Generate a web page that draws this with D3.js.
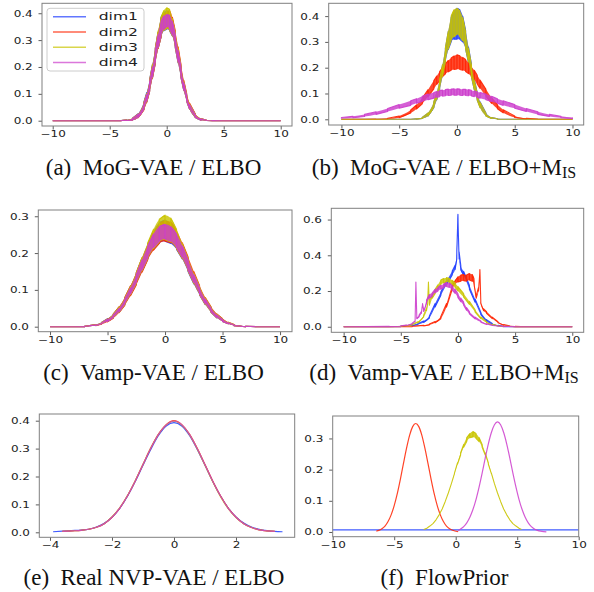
<!DOCTYPE html>
<html>
<head>
<meta charset="utf-8">
<script src="https://cdn.jsdelivr.net/npm/d3@7"></script>
<style>
  body { margin: 0; background: #fff; }
  svg { display: block; }
</style>
</head>
<body>
<div id="chart"></div>
<script>
const dimNames = ['dim1', 'dim2', 'dim3', 'dim4'];
const dimColors = ['#1f3dff', '#ff2200', '#c9c400', '#cc3dcc'];

const xTicksWide = [-10, -5, 0, 5, 10];
const xTicksE = [-4, -2, 0, 2];
const yTicksA = [0, 0.1, 0.2, 0.3, 0.4];
const yTicksC = [0, 0.1, 0.2, 0.3];
const yTicksD = [0, 0.2, 0.4, 0.6];
const yTicksF = [0, 0.1, 0.2, 0.3];

const captions = [
  ['(a)', 'MoG-VAE / ELBO', false],
  ['(b)', 'MoG-VAE / ELBO+M', true],
  ['(c)', 'Vamp-VAE / ELBO', false],
  ['(d)', 'Vamp-VAE / ELBO+M', true],
  ['(e)', 'Real NVP-VAE / ELBO', false],
  ['(f)', 'FlowPrior', false]
];

// (a) MoG-VAE / ELBO : noisy band, lower and upper edge per dim
const aX = [-10, -5, -4, -3.5, -3, -2.5, -2, -1.75, -1.5, -1.25, -1, -0.75, -0.5, -0.25, 0, 0.25, 0.5, 0.75, 1, 1.25, 1.5, 1.75, 2, 2.5, 3, 3.5, 4, 5, 10];
const aHi1 = [0, 0, 0.001, 0.003, 0.009, 0.026, 0.07, 0.105, 0.152, 0.21, 0.27, 0.33, 0.385, 0.405, 0.41, 0.4, 0.375, 0.325, 0.265, 0.2, 0.143, 0.096, 0.062, 0.024, 0.007, 0.002, 0.001, 0, 0];
const aLo1 = [0, 0, 0, 0.0005, 0.002, 0.012, 0.042, 0.07, 0.11, 0.16, 0.215, 0.27, 0.31, 0.335, 0.34, 0.335, 0.315, 0.272, 0.215, 0.16, 0.112, 0.072, 0.043, 0.012, 0.002, 0.0005, 0, 0, 0];
const aHi2 = [0, 0, 0.001, 0.002, 0.008, 0.024, 0.066, 0.1, 0.148, 0.205, 0.268, 0.33, 0.38, 0.4, 0.405, 0.41, 0.385, 0.335, 0.275, 0.21, 0.15, 0.102, 0.066, 0.026, 0.008, 0.002, 0.001, 0, 0];
const aLo2 = [0, 0, 0, 0.0005, 0.002, 0.011, 0.04, 0.068, 0.108, 0.158, 0.212, 0.268, 0.31, 0.34, 0.345, 0.34, 0.318, 0.278, 0.222, 0.165, 0.116, 0.075, 0.045, 0.013, 0.003, 0.0005, 0, 0, 0];
const aHi3 = [0, 0, 0.001, 0.003, 0.009, 0.025, 0.068, 0.102, 0.15, 0.21, 0.27, 0.335, 0.385, 0.41, 0.42, 0.415, 0.38, 0.33, 0.27, 0.205, 0.146, 0.098, 0.063, 0.025, 0.008, 0.002, 0.001, 0, 0];
const aLo3 = [0, 0, 0, 0.0005, 0.002, 0.012, 0.042, 0.07, 0.11, 0.16, 0.216, 0.27, 0.312, 0.336, 0.342, 0.336, 0.315, 0.272, 0.215, 0.16, 0.112, 0.072, 0.043, 0.012, 0.002, 0.0005, 0, 0, 0];
const aHi4 = [0, 0, 0.001, 0.002, 0.008, 0.024, 0.064, 0.098, 0.145, 0.2, 0.262, 0.322, 0.37, 0.39, 0.395, 0.392, 0.37, 0.322, 0.262, 0.2, 0.142, 0.095, 0.06, 0.023, 0.007, 0.002, 0.001, 0, 0];
const aLo4 = [0, 0, 0, 0.0005, 0.002, 0.012, 0.043, 0.072, 0.112, 0.162, 0.218, 0.272, 0.315, 0.34, 0.35, 0.342, 0.318, 0.275, 0.218, 0.163, 0.113, 0.073, 0.044, 0.013, 0.002, 0.0005, 0, 0, 0];

// (b) MoG-VAE / ELBO+MIS
const bX = [-10, -9, -8, -7, -6, -5, -4, -3.5, -3, -2.5, -2, -1.75, -1.5, -1.25, -1, -0.75, -0.5, -0.25, 0, 0.25, 0.5, 0.75, 1, 1.25, 1.5, 1.75, 2, 2.5, 3, 3.5, 4, 5, 6, 7, 8, 9, 10];
const bHi1 = [0, 0, 0, 0, 0, 0, 0.0003, 0.002, 0.007, 0.024, 0.066, 0.102, 0.152, 0.21, 0.275, 0.34, 0.395, 0.42, 0.43, 0.425, 0.4, 0.345, 0.28, 0.215, 0.155, 0.104, 0.068, 0.025, 0.007, 0.002, 0.0003, 0, 0, 0, 0, 0, 0];
const bLo1 = [0, 0, 0, 0, 0, 0, 0, 0.0005, 0.003, 0.013, 0.045, 0.075, 0.115, 0.165, 0.22, 0.27, 0.3, 0.31, 0.31, 0.31, 0.3, 0.272, 0.22, 0.165, 0.115, 0.076, 0.046, 0.014, 0.003, 0.0005, 0, 0, 0, 0, 0, 0, 0];
const bHi2 = [0, 0, 0.0002, 0.001, 0.004, 0.013, 0.036, 0.056, 0.082, 0.115, 0.15, 0.168, 0.185, 0.2, 0.215, 0.228, 0.238, 0.245, 0.25, 0.246, 0.24, 0.232, 0.22, 0.205, 0.19, 0.172, 0.152, 0.117, 0.083, 0.057, 0.037, 0.013, 0.004, 0.001, 0.0002, 0, 0];
const bLo2 = [0, 0, 0, 0, 0.001, 0.006, 0.024, 0.04, 0.06, 0.088, 0.118, 0.135, 0.15, 0.165, 0.176, 0.184, 0.19, 0.193, 0.195, 0.193, 0.19, 0.185, 0.177, 0.166, 0.152, 0.137, 0.12, 0.09, 0.062, 0.041, 0.025, 0.007, 0.001, 0, 0, 0, 0];
const bHi3 = [0, 0, 0, 0, 0, 0, 0.0003, 0.002, 0.007, 0.025, 0.068, 0.104, 0.155, 0.212, 0.278, 0.342, 0.4, 0.425, 0.43, 0.42, 0.395, 0.34, 0.276, 0.212, 0.152, 0.102, 0.066, 0.024, 0.007, 0.002, 0.0003, 0, 0, 0, 0, 0, 0];
const bLo3 = [0, 0, 0, 0, 0, 0, 0, 0.0005, 0.003, 0.013, 0.046, 0.076, 0.116, 0.166, 0.222, 0.272, 0.305, 0.32, 0.33, 0.32, 0.305, 0.272, 0.222, 0.166, 0.115, 0.075, 0.045, 0.013, 0.003, 0.0005, 0, 0, 0, 0, 0, 0, 0];
const bHi4 = [0.007, 0.012, 0.019, 0.029, 0.042, 0.057, 0.072, 0.08, 0.089, 0.098, 0.104, 0.108, 0.111, 0.113, 0.115, 0.117, 0.117, 0.118, 0.118, 0.117, 0.116, 0.116, 0.115, 0.112, 0.11, 0.107, 0.104, 0.098, 0.089, 0.08, 0.072, 0.057, 0.042, 0.029, 0.019, 0.012, 0.007];
const bLo4 = [0.003, 0.006, 0.011, 0.019, 0.03, 0.043, 0.054, 0.062, 0.069, 0.076, 0.082, 0.085, 0.088, 0.09, 0.091, 0.092, 0.093, 0.093, 0.093, 0.093, 0.092, 0.092, 0.091, 0.09, 0.088, 0.085, 0.082, 0.076, 0.069, 0.062, 0.054, 0.043, 0.03, 0.019, 0.011, 0.006, 0.003];

// (c) Vamp-VAE / ELBO
const cX = [-10, -8, -7, -6, -5.5, -5, -4.5, -4, -3.5, -3, -2.5, -2, -1.5, -1, -0.5, 0, 0.5, 1, 1.5, 2, 2.5, 3, 3.5, 4, 4.5, 5, 5.5, 6, 7, 8, 10];
const cHi1 = [0, 0, 0.001, 0.006, 0.012, 0.022, 0.034, 0.053, 0.078, 0.11, 0.146, 0.186, 0.224, 0.26, 0.283, 0.29, 0.28, 0.258, 0.222, 0.184, 0.144, 0.108, 0.076, 0.052, 0.033, 0.021, 0.011, 0.005, 0.001, 0, 0];
const cLo1 = [0, 0, 0, 0.003, 0.008, 0.014, 0.024, 0.039, 0.06, 0.086, 0.116, 0.15, 0.184, 0.21, 0.227, 0.232, 0.226, 0.21, 0.184, 0.15, 0.116, 0.086, 0.06, 0.039, 0.024, 0.014, 0.008, 0.003, 0, 0, 0];
const cHi2 = [0, 0, 0.001, 0.006, 0.011, 0.021, 0.034, 0.054, 0.079, 0.111, 0.147, 0.187, 0.225, 0.258, 0.28, 0.288, 0.285, 0.262, 0.228, 0.19, 0.15, 0.112, 0.079, 0.054, 0.035, 0.022, 0.012, 0.006, 0.001, 0, 0];
const cLo2 = [0, 0, 0, 0.003, 0.007, 0.013, 0.023, 0.038, 0.058, 0.084, 0.113, 0.148, 0.182, 0.208, 0.226, 0.232, 0.228, 0.212, 0.186, 0.153, 0.119, 0.088, 0.062, 0.04, 0.025, 0.015, 0.008, 0.003, 0, 0, 0];
const cHi3 = [0, 0, 0.001, 0.006, 0.012, 0.021, 0.034, 0.053, 0.078, 0.11, 0.147, 0.188, 0.228, 0.265, 0.292, 0.303, 0.295, 0.265, 0.226, 0.186, 0.146, 0.11, 0.078, 0.053, 0.034, 0.021, 0.012, 0.006, 0.001, 0, 0];
const cLo3 = [0, 0, 0, 0.003, 0.008, 0.014, 0.024, 0.039, 0.06, 0.087, 0.117, 0.151, 0.185, 0.212, 0.23, 0.236, 0.23, 0.212, 0.185, 0.151, 0.117, 0.087, 0.06, 0.039, 0.024, 0.014, 0.008, 0.003, 0, 0, 0];
const cHi4 = [0, 0, 0.001, 0.005, 0.011, 0.02, 0.032, 0.05, 0.075, 0.106, 0.142, 0.182, 0.22, 0.252, 0.272, 0.278, 0.272, 0.252, 0.22, 0.182, 0.142, 0.106, 0.075, 0.05, 0.032, 0.02, 0.011, 0.005, 0.001, 0, 0];
const cLo4 = [0, 0, 0, 0.003, 0.008, 0.014, 0.025, 0.04, 0.062, 0.089, 0.12, 0.154, 0.188, 0.215, 0.232, 0.238, 0.232, 0.215, 0.188, 0.154, 0.12, 0.089, 0.062, 0.04, 0.025, 0.014, 0.008, 0.003, 0, 0, 0];

// (d) Vamp-VAE / ELBO+MIS : [x, lower, upper]
const dDim1 = [[-10, 0, 0], [-6, 0, 0.001], [-5, 0.001, 0.003], [-4, 0.006, 0.01], [-3.5, 0.012, 0.018], [-3, 0.024, 0.032], [-2.5, 0.048, 0.06], [-2, 0.11, 0.13], [-1.5, 0.175, 0.195], [-1, 0.235, 0.258], [-0.5, 0.29, 0.312], [-0.25, 0.32, 0.345], [-0.1, 0.38, 0.42], [0, 0.6, 0.63], [0.1, 0.38, 0.42], [0.25, 0.318, 0.342], [0.5, 0.288, 0.31], [1, 0.21, 0.232], [1.5, 0.137, 0.155], [2, 0.068, 0.082], [2.5, 0.03, 0.04], [3, 0.012, 0.018], [3.5, 0.004, 0.008], [4, 0.001, 0.003], [5, 0, 0.001], [10, 0, 0]];
const dDim2 = [[-10, 0, 0], [-5, 0, 0.001], [-4, 0.001, 0.003], [-3, 0.005, 0.008], [-2.5, 0.01, 0.015], [-2, 0.022, 0.03], [-1.5, 0.045, 0.058], [-1, 0.11, 0.13], [-0.5, 0.21, 0.232], [0, 0.25, 0.28], [0.25, 0.255, 0.29], [0.5, 0.258, 0.292], [0.75, 0.255, 0.29], [1, 0.262, 0.298], [1.25, 0.255, 0.292], [1.4, 0.24, 0.27], [1.6, 0.16, 0.175], [1.8, 0.2, 0.22], [1.92, 0.31, 0.32], [2, 0.13, 0.14], [2.25, 0.09, 0.1], [2.5, 0.075, 0.085], [3, 0.046, 0.054], [3.5, 0.022, 0.028], [4, 0.008, 0.012], [4.5, 0.003, 0.005], [5, 0.001, 0.002], [6, 0, 0], [10, 0, 0]];
const dDim3 = [[-10, 0, 0], [-6, 0, 0.001], [-5, 0.002, 0.004], [-4.5, 0.005, 0.008], [-4, 0.01, 0.014], [-3.5, 0.022, 0.028], [-3, 0.055, 0.065], [-2.75, 0.09, 0.105], [-2.65, 0.13, 0.14], [-2.58, 0.245, 0.25], [-2.5, 0.12, 0.14], [-2.25, 0.16, 0.18], [-2, 0.185, 0.21], [-1.75, 0.21, 0.235], [-1.5, 0.235, 0.262], [-1.25, 0.245, 0.27], [-1, 0.25, 0.275], [-0.75, 0.245, 0.27], [-0.5, 0.235, 0.26], [-0.25, 0.22, 0.245], [0, 0.2, 0.225], [0.5, 0.165, 0.185], [1, 0.125, 0.142], [1.5, 0.082, 0.095], [2, 0.045, 0.055], [2.5, 0.022, 0.028], [3, 0.01, 0.014], [3.5, 0.004, 0.006], [4, 0.001, 0.003], [5, 0, 0.001], [10, 0, 0]];
const dDim4 = [[-10, 0, 0], [-6, 0.001, 0.002], [-5, 0.003, 0.005], [-4.5, 0.007, 0.009], [-4, 0.016, 0.02], [-3.75, 0.028, 0.032], [-3.68, 0.245, 0.25], [-3.6, 0.045, 0.055], [-3.4, 0.055, 0.065], [-3.2, 0.075, 0.085], [-3.1, 0.125, 0.13], [-3, 0.085, 0.095], [-2.75, 0.13, 0.15], [-2.5, 0.16, 0.18], [-2.25, 0.17, 0.19], [-2, 0.19, 0.21], [-1.75, 0.2, 0.22], [-1.5, 0.21, 0.232], [-1.25, 0.218, 0.24], [-1, 0.225, 0.248], [-0.75, 0.22, 0.245], [-0.5, 0.205, 0.23], [-0.25, 0.187, 0.21], [0, 0.163, 0.185], [0.25, 0.14, 0.16], [0.5, 0.12, 0.138], [0.75, 0.092, 0.108], [1, 0.072, 0.085], [1.5, 0.044, 0.054], [2, 0.026, 0.032], [2.5, 0.013, 0.017], [3, 0.007, 0.009], [4, 0.002, 0.003], [5, 0, 0.001], [10, 0, 0]];

// (e) Real NVP-VAE / ELBO : smooth lines
const eX = [-3.9, -3.6, -3.3, -3, -2.75, -2.5, -2.25, -2, -1.75, -1.5, -1.25, -1, -0.75, -0.5, -0.25, 0, 0.25, 0.5, 0.75, 1, 1.25, 1.5, 1.75, 2, 2.25, 2.5, 2.75, 3, 3.25, 3.5];
const eDim1 = [0.002, 0.004, 0.006, 0.008, 0.011, 0.019, 0.032, 0.054, 0.086, 0.129, 0.182, 0.24, 0.297, 0.347, 0.381, 0.393, 0.381, 0.347, 0.297, 0.24, 0.182, 0.13, 0.087, 0.055, 0.033, 0.019, 0.011, 0.006, 0.003, 0.002];
const eDim2 = [null, 0.003, 0.005, 0.007, 0.011, 0.018, 0.031, 0.054, 0.087, 0.131, 0.184, 0.243, 0.302, 0.352, 0.386, 0.4, 0.386, 0.352, 0.301, 0.243, 0.184, 0.131, 0.087, 0.054, 0.031, 0.017, 0.009, 0.005, 0.003, null];
const eDim3 = [null, 0.003, 0.005, 0.007, 0.011, 0.018, 0.031, 0.055, 0.088, 0.132, 0.185, 0.244, 0.302, 0.351, 0.385, 0.398, 0.385, 0.35, 0.299, 0.24, 0.181, 0.128, 0.085, 0.053, 0.031, 0.017, 0.009, 0.005, 0.003, null];
const eDim4 = [null, 0.003, 0.005, 0.007, 0.011, 0.018, 0.031, 0.054, 0.087, 0.131, 0.184, 0.243, 0.301, 0.351, 0.385, 0.399, 0.386, 0.351, 0.3, 0.242, 0.183, 0.13, 0.086, 0.054, 0.031, 0.017, 0.009, 0.005, 0.003, null];

// (f) FlowPrior : [x, y] (dim3 as [x, lower, upper])
const fDim1 = [[-10, 0.0065], [-5, 0.0065], [0, 0.0065], [5, 0.0065], [10, 0.0065]];
const fDim2 = [[-6.45, 0.003], [-6.25, 0.005], [-6, 0.0105], [-5.75, 0.019], [-5.5, 0.0335], [-5.25, 0.055], [-5, 0.0845], [-4.75, 0.123], [-4.5, 0.169], [-4.25, 0.219], [-4, 0.268], [-3.75, 0.31], [-3.5, 0.338], [-3.25, 0.348], [-3, 0.338], [-2.75, 0.31], [-2.5, 0.268], [-2.25, 0.219], [-2, 0.169], [-1.75, 0.123], [-1.5, 0.0845], [-1.25, 0.055], [-1, 0.0335], [-0.75, 0.019], [-0.5, 0.0105], [-0.25, 0.0054], [0.2, 0.0014]];
const fDim3 = [[-2.6, 0.0078, 0.0078], [-2.35, 0.012, 0.012], [-2.1, 0.019, 0.019], [-1.85, 0.027, 0.027], [-1.6, 0.039, 0.039], [-1.35, 0.055, 0.055], [-1.1, 0.074, 0.074], [-0.85, 0.098, 0.098], [-0.6, 0.125, 0.125], [-0.35, 0.155, 0.155], [-0.1, 0.187, 0.189], [0.15, 0.218, 0.222], [0.4, 0.247, 0.254], [0.65, 0.272, 0.281], [0.9, 0.29, 0.303], [1.15, 0.302, 0.316], [1.4, 0.305, 0.322], [1.65, 0.3, 0.316], [1.9, 0.29, 0.303], [2.15, 0.272, 0.281], [2.4, 0.247, 0.254], [2.65, 0.218, 0.222], [2.9, 0.187, 0.189], [3.15, 0.155, 0.155], [3.4, 0.125, 0.125], [3.65, 0.098, 0.098], [3.9, 0.074, 0.074], [4.15, 0.055, 0.055], [4.4, 0.039, 0.039], [4.65, 0.027, 0.027], [4.9, 0.019, 0.019], [5.15, 0.012, 0.012], [5.35, 0.008, 0.008]];
const fDim4 = [[0.2, 0.005], [0.4, 0.0098], [0.65, 0.017], [0.9, 0.029], [1.15, 0.047], [1.4, 0.072], [1.65, 0.104], [1.9, 0.144], [2.15, 0.189], [2.4, 0.237], [2.65, 0.282], [2.9, 0.319], [3.15, 0.344], [3.4, 0.353], [3.65, 0.344], [3.9, 0.319], [4.15, 0.282], [4.4, 0.237], [4.65, 0.189], [4.9, 0.144], [5.15, 0.104], [5.4, 0.072], [5.65, 0.047], [5.9, 0.029], [6.15, 0.017], [6.4, 0.0098], [6.65, 0.0053], [6.9, 0.0027], [7.15, 0.0013], [7.37, 0.0006]];

const zip3 = (xs, lo, hi) => xs.map((v, i) => [v, lo[i], hi[i]]);
const band = rows => ({ kind: 'band', rows });
const line = rows => ({ kind: 'line', rows });

const panels = [
    { box: [42, 292, 3.3, 126], xd: [-10.94, 10.99], yd: [-0.0197, 0.437], xt: xTicksWide, yt: yTicksA,
      series: [band(zip3(aX, aLo1, aHi1)), band(zip3(aX, aLo2, aHi2)), band(zip3(aX, aLo3, aHi3)), band(zip3(aX, aLo4, aHi4))] },
    { box: [328.7, 583.7, 3.3, 125], xd: [-11.1, 10.97], yd: [-0.0221, 0.4496], xt: xTicksWide, yt: yTicksA,
      series: [band(zip3(bX, bLo1, bHi1)), band(zip3(bX, bLo2, bHi2)), band(zip3(bX, bLo3, bHi3)), band(zip3(bX, bLo4, bHi4))] },
    { box: [38.3, 292, 210, 331.7], xd: [-11.02, 11.04], yd: [-0.0136, 0.317], xt: xTicksWide, yt: yTicksC,
      series: [band(zip3(cX, cLo1, cHi1)), band(zip3(cX, cLo2, cHi2)), band(zip3(cX, cLo3, cHi3)), band(zip3(cX, cLo4, cHi4))] },
    { box: [331.3, 583.7, 208.3, 332.3], xd: [-11.08, 11.0], yd: [-0.031, 0.663], xt: xTicksWide, yt: yTicksD,
      series: [band(dDim1), band(dDim2), band(dDim3), band(dDim4)] },
    { box: [39.3, 294.7, 414, 537.3], xd: [-4.345, 3.894], yd: [-0.0179, 0.424], xt: xTicksE, yt: yTicksA,
      series: [eDim1, eDim2, eDim3, eDim4].map(ys => line(eX.map((v, i) => [v, ys[i]]))) },
    { box: [332.7, 578.7, 416, 536.7], xd: [-10, 10], yd: [-0.0151, 0.372], xt: xTicksWide, yt: yTicksF,
      series: [line(fDim1), line(fDim2), band(fDim3), line(fDim4)] }
];

// caption placement: centre x, baseline y
const capPos = [[153.5, 175], [444, 175], [153.5, 380], [444, 380], [154, 585], [444.5, 585]];

const svg = d3.select('#chart').append('svg').attr('width', 594).attr('height', 592);

const tickFont = 'DejaVu Sans, sans-serif';
const capFont = 'Liberation Serif, Times New Roman, Times, serif';

panels.forEach((p, pi) => {
    const [l, r, t, b] = p.box;
    const x = d3.scaleLinear().domain(p.xd).range([l, r]);
    const y = d3.scaleLinear().domain(p.yd).range([b, t]);
    const g = svg.append('g');

    g.append('clipPath').attr('id', 'clip' + pi)
        .append('rect').attr('x', l).attr('y', t).attr('width', r - l).attr('height', b - t);

    const plot = g.append('g').attr('clip-path', `url(#clip${pi})`);

    p.series.forEach((s, si) => {
        const c = dimColors[si];
        if (s.kind === 'band') {
            // fill between the edges, then a jagged trace running up and down between them
            const area = d3.area()
                .curve(d3.curveMonotoneX)
                .x(d => x(d[0])).y0(d => y(d[1])).y1(d => y(d[2]));
            plot.append('path').datum(s.rows)
                .attr('d', area)
                .attr('fill', c).attr('fill-opacity', 0.82).attr('stroke', 'none');
            const zig = s.rows.flatMap((d, i) => i % 2 === 0
                ? [[d[0], d[1]], [d[0], d[2]]]
                : [[d[0], d[2]], [d[0], d[1]]]);
            const ln = d3.line().x(d => x(d[0])).y(d => y(d[1]));
            plot.append('path').datum(zig)
                .attr('d', ln)
                .attr('fill', 'none')
                .attr('stroke', c).attr('stroke-width', 1.1).attr('stroke-opacity', 0.9)
                .attr('stroke-linejoin', 'round');
        } else {
            const ln = d3.line()
                .defined(d => d[1] !== null)
                .curve(d3.curveMonotoneX)
                .x(d => x(d[0])).y(d => y(d[1]));
            plot.append('path').datum(s.rows)
                .attr('d', ln)
                .attr('fill', 'none')
                .attr('stroke', c).attr('stroke-width', 1.2).attr('stroke-opacity', 0.85);
        }
    });

    const yAxis = d3.axisLeft(y).tickValues(p.yt).tickFormat(d3.format('.1f')).tickSize(3.5).tickSizeOuter(0);
    const ay = g.append('g').attr('transform', `translate(${l},0)`).call(yAxis);
    ay.select('.domain').remove();
    ay.selectAll('line').attr('stroke', '#333').attr('stroke-width', 0.8);
    ay.selectAll('text')
        .attr('x', null).attr('dy', '0.34em')
        .attr('transform', 'translate(-9.3,0) scale(1.38,1)')
        .style('font-family', tickFont).style('font-size', '8.7px').attr('fill', '#222');

    const xAxis = d3.axisBottom(x).tickValues(p.xt).tickFormat(d3.format('d')).tickSize(3.5).tickSizeOuter(0);
    const ax = g.append('g').attr('transform', `translate(0,${b})`).call(xAxis);
    ax.select('.domain').remove();
    ax.selectAll('line').attr('stroke', '#333').attr('stroke-width', 0.8);
    ax.selectAll('text')
        .attr('y', null).attr('dy', null)
        .attr('transform', 'translate(0,10.8) scale(1.38,1)')
        .style('font-family', tickFont).style('font-size', '8.7px').attr('fill', '#222');

    g.append('rect')
        .attr('x', l).attr('y', t).attr('width', r - l).attr('height', b - t)
        .attr('fill', 'none').attr('stroke', '#808080').attr('stroke-width', 1);

    const [cx, cy] = capPos[pi];
    const [tag, title, hasSub] = captions[pi];
    const cap = svg.append('text')
        .attr('x', cx).attr('y', cy)
        .attr('text-anchor', 'middle')
        .style('font-family', capFont)
        .style('font-size', '23px').attr('fill', '#111');
    cap.append('tspan').text(tag + '\u2002' + title);
    if (hasSub) cap.append('tspan').attr('dy', 3).style('font-size', '16px').text('IS');
});

// legend in panel (a)
const leg = svg.append('g');
leg.append('rect')
    .attr('x', 47).attr('y', 8.3).attr('width', 97).attr('height', 62.7)
    .attr('rx', 3).attr('fill', '#fff').attr('fill-opacity', 0.8)
    .attr('stroke', '#cccccc').attr('stroke-width', 1);
dimNames.forEach((n, i) => {
    const yy = 16.7 + i * 15.3;
    leg.append('line').attr('x1', 53).attr('x2', 86).attr('y1', yy).attr('y2', yy)
        .attr('stroke', dimColors[i]).attr('stroke-width', 1.5).attr('stroke-opacity', 0.7);
    leg.append('text')
        .attr('transform', `translate(98.7,${yy}) scale(1.5,1)`)
        .attr('dy', '0.35em')
        .style('font-family', tickFont).style('font-size', '10.4px').attr('fill', '#222')
        .text(n);
});
</script>
</body>
</html>
